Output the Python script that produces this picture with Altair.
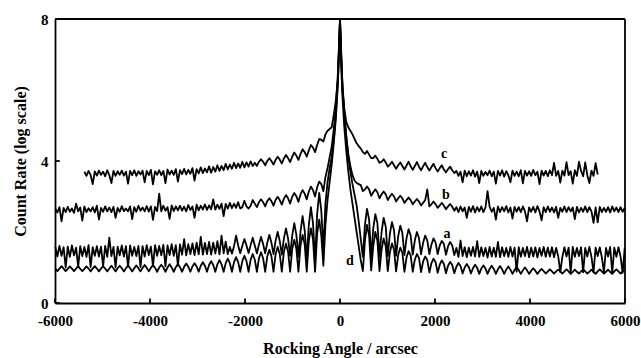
import altair as alt
import pandas as pd

STEP = 43.75
X_TICKS = [-6000, -4000, -2000, 0, 2000, 4000, 6000]
Y_TICKS = [0, 4, 8]
X_RANGE = [-6000, 6000]
Y_RANGE = [0, 8]

# ---------------- curve d (simulation) ----------------
d_left = [
    0.97, 0.90, 0.97, 1.04, 0.97, 0.90, 0.96, 1.03, 0.97, 0.90, 0.97, 1.04,
    0.96, 0.90, 0.96, 1.03, 0.97, 0.89, 0.97, 1.04, 0.97, 0.89, 0.97, 1.04,
    0.97, 0.89, 0.97, 1.05, 0.97, 0.89, 0.98, 1.05, 0.98, 0.89, 0.98, 1.06,
    0.98, 0.89, 0.98, 1.06, 0.98, 0.89, 0.99, 1.07, 0.99, 0.89, 0.99, 1.07,
    0.99, 0.88, 1.00, 1.08, 1.00, 0.88, 1.00, 1.09, 1.00, 0.88, 1.01, 1.10,
    1.01, 0.88, 1.02, 1.11, 1.02, 0.88, 1.03, 1.12, 1.03, 0.88, 1.05, 1.15,
    1.05, 0.88, 1.07, 1.18, 1.07, 0.88, 1.09, 1.21, 1.09, 0.88, 1.12, 1.25,
    1.12, 0.88, 1.15, 1.29, 1.15, 0.88, 1.18, 1.33, 1.18, 0.88, 1.22, 1.38,
    1.22, 0.88, 1.26, 1.43, 1.26, 0.88, 1.31, 1.50, 1.32, 0.88, 1.37, 1.58,
    1.38, 0.88, 1.44, 1.67, 1.45, 0.88, 1.52, 1.78, 1.53, 0.88, 1.62, 1.92,
    1.65, 0.88, 1.75, 2.10, 1.80, 0.88, 1.95, 2.35,
]
d_center = [1.9, 1.05, 2.2, 2.9, 3.4, 3.9, 4.5, 5.2, 6.2, 8.0,
            6.0, 5.0, 4.3, 3.7, 3.2, 2.8, 2.4, 2.0, 1.6, 1.2, 0.9]
d_right = [
    1.75, 2.20, 1.90, 0.92, 1.60, 2.00, 1.75, 0.90, 1.50, 1.82, 1.60, 0.90,
    1.42, 1.68, 1.50, 0.89, 1.35, 1.56, 1.42, 0.88, 1.28, 1.46, 1.34, 0.88,
    1.22, 1.38, 1.27, 0.87, 1.17, 1.31, 1.21, 0.86, 1.12, 1.25, 1.15, 0.85,
    1.08, 1.20, 1.10, 0.84, 1.05, 1.16, 1.07, 0.84, 1.02, 1.13, 1.04, 0.83,
    1.00, 1.10, 1.01, 0.83, 0.98, 1.08, 0.99, 0.82, 0.97, 1.06, 0.97, 0.82,
    0.96, 1.05, 0.96, 0.82, 0.95, 1.04, 0.95, 0.82, 0.94, 1.03, 0.94, 0.82,
    0.93, 1.02, 0.93, 0.82, 0.92, 1.00, 0.92, 0.82, 0.91, 0.98, 0.91, 0.82,
    0.90, 0.96, 0.90, 0.83, 0.89, 0.95, 0.89, 0.83, 0.89, 0.94, 0.89, 0.83,
    0.89, 0.95, 0.89, 0.82, 0.88, 0.94, 0.88, 0.83, 0.89, 0.95, 0.89, 0.83,
    0.88, 0.94, 0.88, 0.82, 0.89, 0.95, 0.89, 0.83, 0.88, 0.94, 0.88, 0.82,
    0.89, 0.95, 0.89, 0.83, 0.89, 0.94,
]

# ---------------- curve a ----------------
a_left = [
    1.58, 1.31, 1.61, 1.33, 1.57, 1.00, 1.59, 1.30, 1.62, 1.34, 1.56, 1.02,
    1.60, 1.32, 1.58, 1.30, 1.63, 1.01, 1.57, 1.33, 1.60, 1.31, 1.59, 1.03,
    1.61, 1.30, 1.84, 1.32, 1.58, 1.00, 1.59, 1.34, 1.62, 1.31, 1.60, 1.02,
    1.62, 1.33, 1.58, 1.32, 1.61, 1.01, 1.60, 1.31, 1.63, 1.35, 1.59, 1.04,
    1.63, 1.33, 1.61, 1.34, 1.64, 1.03, 1.62, 1.35, 1.66, 1.33, 1.63, 1.05,
    1.65, 1.36, 1.80, 1.34, 1.66, 1.38, 1.68, 1.35, 1.70, 1.37, 1.86, 1.36,
    1.69, 1.38, 1.72, 1.36, 1.70, 1.39, 1.74, 1.37, 1.90, 1.40, 1.73, 1.38,
    1.58, 1.39, 1.60, 1.90, 1.62, 1.40, 1.61, 1.80, 1.62, 1.41, 1.63, 1.84,
    1.62, 1.40, 1.65, 1.86, 1.66, 1.40, 1.70, 1.92, 1.70, 1.38, 1.75, 2.00,
    1.75, 1.36, 1.82, 2.10, 1.82, 1.33, 1.90, 2.25, 1.92, 1.30, 2.02, 2.45,
    2.05, 1.25, 2.20, 2.70, 2.25, 1.20, 2.50, 3.10,
]
a_center = [2.6, 1.5, 2.8, 3.4, 3.8, 4.1, 4.6, 5.3, 6.3, 7.9,
            6.3, 5.4, 4.7, 4.1, 3.7, 3.35, 3.05, 2.75, 2.3, 1.8, 1.3]
a_right = [
    2.20, 2.65, 2.35, 1.30, 2.10, 2.50, 2.25, 1.30, 2.00, 2.40, 2.15, 1.32,
    1.95, 2.28, 2.05, 1.33, 1.88, 2.18, 1.97, 1.35, 1.82, 2.08, 1.90, 1.36,
    1.76, 2.00, 1.83, 1.37, 1.70, 1.90, 1.76, 1.38, 1.65, 1.82, 1.70, 1.38,
    1.62, 1.75, 1.66, 1.36, 1.60, 1.72, 1.62, 1.35,
    1.55, 1.30, 1.76, 1.32, 1.57, 1.29, 1.56, 1.33, 1.58, 1.31, 1.74, 1.30,
    1.57, 1.32, 1.55, 1.28, 1.58, 1.31, 1.56, 1.30, 1.72, 1.29, 1.57, 1.32,
    1.55, 1.30, 1.58, 1.31, 1.56, 0.88, 1.57, 1.30, 1.55, 1.32, 1.58, 1.29,
    1.56, 1.31, 1.57, 1.28, 1.55, 1.33, 1.58, 1.30, 1.56, 1.31, 1.57, 1.29,
    1.55, 1.32, 0.87, 1.30, 1.57, 1.31, 1.56, 0.86, 1.58, 1.30, 1.55, 1.32,
    1.57, 0.86, 1.55, 1.31, 1.58, 1.30, 0.86, 1.56, 1.32, 1.57, 1.29, 0.86,
    1.55, 1.31, 1.58, 0.85, 1.56, 1.30, 1.57, 1.31, 0.85, 1.55,
]

# ---------------- curve b ----------------
b_left = [
    2.66, 2.55, 2.70, 2.30, 2.68, 2.56, 2.71, 2.57, 2.66, 2.54, 2.80, 2.58,
    2.69, 2.32, 2.72, 2.56, 2.67, 2.58, 2.70, 2.55, 2.74, 2.35, 2.68, 2.57,
    2.72, 2.58, 2.69, 2.56, 2.71, 2.40, 2.68, 2.57, 2.73, 2.59, 2.66, 2.58,
    2.72, 2.36, 2.70, 2.57, 2.74, 2.60, 2.69, 2.58, 2.73, 2.57, 2.72, 2.34,
    2.71, 2.59, 3.08, 2.58, 2.74, 2.60, 2.70, 2.37, 2.75, 2.59, 2.72, 2.61,
    2.74, 2.60, 2.71, 2.58, 2.76, 2.62, 2.72, 2.40, 2.77, 2.61, 2.74, 2.63,
    2.78, 2.62, 2.75, 2.64, 2.92, 2.63, 2.77, 2.65, 2.80, 2.45, 2.79, 2.66,
    2.82, 2.67, 2.80, 2.68, 2.84, 2.66, 2.70, 2.88, 2.72, 2.66, 2.74, 2.90,
    2.80, 2.70, 2.84, 2.92, 2.84, 2.72, 2.87, 2.95, 2.87, 2.74, 2.90, 2.99,
    2.90, 2.77, 2.94, 3.04, 2.95, 2.80, 2.99, 3.10, 3.01, 2.85, 3.06, 3.18,
    3.08, 2.92, 3.14, 3.28, 3.18, 3.00, 3.26, 3.42,
]
b_center = [3.35, 3.15, 3.55, 3.8, 4.1, 4.4, 4.9, 5.5, 6.5, 8.0,
            6.4, 5.4, 4.7, 4.2, 3.85, 3.6, 3.45, 3.38, 3.35, 3.32, 3.15]
b_right = [
    3.20, 3.28, 3.20, 3.02, 3.12, 3.20, 3.12, 2.95, 3.06, 3.14, 3.06, 2.90,
    3.00, 3.08, 3.00, 2.86, 2.95, 3.02, 2.95, 2.82, 2.90, 2.97, 2.90, 2.78,
    2.86, 2.93, 2.86, 2.75, 2.82, 2.90, 3.20, 2.72, 2.78, 2.86, 2.78, 2.68,
    2.75, 2.82, 2.74, 2.64, 2.72, 2.79, 2.71, 2.60,
    2.70, 2.56, 2.72, 2.58, 2.69, 2.40, 2.71, 2.57, 2.73, 2.55, 2.70, 2.58,
    2.72, 2.56, 2.69, 3.15, 2.71, 2.57, 2.68, 2.35, 2.72, 2.56, 2.70, 2.58,
    2.73, 2.55, 2.69, 2.38, 2.71, 2.57, 2.70, 2.56, 2.72, 2.58, 2.30, 2.69,
    2.57, 2.71, 2.55, 2.73, 2.58, 2.33, 2.70, 2.56, 2.72, 2.57, 2.69, 2.55,
    2.71, 2.40, 2.68, 2.57, 2.72, 2.56, 2.70, 2.58, 2.69, 2.36, 2.71, 2.55,
    2.68, 2.57, 2.72, 2.56, 2.70, 2.58, 2.26, 2.69, 2.27, 2.71, 2.56, 2.68,
    2.57, 2.70, 2.55, 2.72, 2.58, 2.69, 2.56, 2.70, 2.57, 2.68,
]

# ---------------- curve c ----------------
c_left = [
    3.70, 3.58, 3.72, 3.60, 3.35, 3.71, 3.59, 3.73, 3.61, 3.70, 3.57, 3.74,
    3.60, 3.38, 3.72, 3.58, 3.71, 3.61, 3.73, 3.59, 3.70, 3.36, 3.72, 3.60,
    3.74, 3.58, 3.71, 3.62, 3.73, 3.40, 3.72, 3.60, 3.75, 3.34, 3.71, 3.61,
    3.74, 3.60, 3.72, 3.38, 3.76, 3.62, 3.73, 3.61, 3.77, 3.42, 3.74, 3.63,
    3.78, 3.62, 3.75, 3.64, 3.80, 3.45, 3.77, 3.65, 3.82, 3.66, 3.79, 3.68,
    3.85, 3.67, 3.83, 3.70, 3.88, 3.72, 3.86, 3.74, 3.92, 3.76, 3.90, 3.78,
    3.95, 3.80, 3.93, 3.81, 3.98, 3.82, 3.96, 3.84, 3.99, 3.86,
    3.95, 3.86, 3.98, 4.05, 3.98, 3.88, 4.00, 4.08, 4.00, 3.90, 4.03, 4.12,
    4.04, 3.93, 4.07, 4.17, 4.08, 3.97, 4.12, 4.24, 4.15, 4.03, 4.20, 4.33,
    4.25, 4.12, 4.30, 4.45, 4.38, 4.25, 4.45, 4.62,
]
c_center = [4.6, 4.55, 4.75, 4.85, 4.9, 4.95, 5.3, 5.7, 6.3, 8.0,
            6.1, 5.5, 5.1, 4.95, 4.85, 4.75, 4.62, 4.5, 4.42, 4.35, 4.25]
c_right = [
    4.20, 4.28, 4.18, 4.08, 4.08, 4.15, 4.06, 3.95, 3.98, 4.05, 3.96, 3.84,
    3.90, 3.98, 3.88, 3.78, 3.88, 3.96, 3.86, 3.76, 3.87, 3.98, 3.85, 3.75,
    3.86, 3.97, 3.84, 3.74, 3.85, 3.95, 3.83, 3.73, 3.83, 3.92, 3.80, 3.70,
    3.80, 3.88, 3.76, 3.68, 3.77, 3.84, 3.74, 3.66,
    3.72, 3.58, 3.70, 3.40, 3.73, 3.57, 3.71, 3.59, 3.74, 3.56, 3.70, 3.38,
    3.72, 3.58, 3.69, 3.60, 3.73, 3.57, 3.70, 3.36, 3.72, 3.59, 3.74, 3.56,
    3.71, 3.60, 3.40, 3.73, 3.58, 3.70, 3.57, 3.74, 3.37, 3.72, 3.59, 3.71,
    3.58, 3.75, 3.60, 3.70, 3.35, 3.73, 3.59, 3.72, 3.57, 3.74, 3.60, 3.95,
    3.58, 3.72, 3.39, 3.73, 3.59, 3.97, 3.60, 3.71, 3.36, 3.74, 3.58, 3.98,
    3.72, 3.57, 3.96, 3.60, 3.38, 3.73, 3.58, 3.94, 3.62,
]

# curve labels
label_text = ["c", "b", "a", "d"]
label_x = [2190, 2230, 2250, 210]
label_y = [4.21, 3.05, 1.95, 1.17]


def build(name, left, center, right):
    rows = []
    k_left0 = -10 - len(left) + 1
    for i, v in enumerate(left):
        rows.append({"series": name, "x": (k_left0 + i) * STEP, "y": v})
    for i, v in enumerate(center):
        rows.append({"series": name, "x": (-9 + i) * STEP, "y": v})
    k_right0 = -9 + len(center)
    for i, v in enumerate(right):
        rows.append({"series": name, "x": (k_right0 + i) * STEP, "y": v})
    return rows


rows = (build("d", d_left, d_center, d_right)
        + build("a", a_left, a_center, a_right)
        + build("b", b_left, b_center, b_right)
        + build("c", c_left, c_center, c_right))

# frame (top and right edges) and inward ticks, as two-point paths in the same layer
rows += [{"series": "top", "x": X_RANGE[0], "y": Y_RANGE[1]},
         {"series": "top", "x": X_RANGE[1], "y": Y_RANGE[1]},
         {"series": "right", "x": X_RANGE[1], "y": Y_RANGE[0]},
         {"series": "right", "x": X_RANGE[1], "y": Y_RANGE[1]}]
for v in X_TICKS:
    rows += [{"series": f"xt{v}", "x": v, "y": Y_RANGE[0]},
             {"series": f"xt{v}", "x": v, "y": Y_RANGE[0] + 0.13}]
for v in Y_TICKS:
    rows += [{"series": f"yt{v}", "x": X_RANGE[0], "y": v},
             {"series": f"yt{v}", "x": X_RANGE[0] + 100, "y": v}]

df = pd.DataFrame(rows)
labels = pd.DataFrame({"t": label_text, "x": label_x, "y": label_y})

FONT = "Liberation Serif"

xscale = alt.Scale(domain=X_RANGE, nice=False, zero=False)
yscale = alt.Scale(domain=Y_RANGE, nice=False)

xaxis = alt.Axis(values=X_TICKS, title="Rocking Angle / arcsec", ticks=False, grid=False,
                 labelExpr="datum.value + ''", labelFont=FONT, labelFontWeight="bold",
                 labelFontSize=15, labelColor="black", labelPadding=10, labelFlush=False,
                 titleFont=FONT, titleFontWeight="bold", titleFontSize=16,
                 titleColor="black", titlePadding=12, domainColor="black", domainWidth=1.8)
yaxis = alt.Axis(values=Y_TICKS, title="Count Rate (log scale)", ticks=False, grid=False,
                 labelFont=FONT, labelFontWeight="bold", labelFontSize=15,
                 labelColor="black", labelPadding=7, labelFlush=False,
                 titleFont=FONT, titleFontWeight="bold", titleFontSize=16,
                 titleColor="black", titlePadding=12, domainColor="black", domainWidth=1.8)

X = alt.X("x:Q", scale=xscale, axis=xaxis)
Y = alt.Y("y:Q", scale=yscale, axis=yaxis)

lines = alt.Chart(df).mark_line(color="black", strokeWidth=1.8, strokeJoin="round").encode(
    x=X, y=Y, detail="series:N", order="x:Q")

texts = alt.Chart(labels).mark_text(font=FONT, fontWeight="bold", fontSize=14,
                                    color="black", align="center", baseline="middle").encode(
    x=X, y=Y, text="t:N")

chart = alt.layer(lines, texts).properties(
    width=570, height=284,
    autosize=alt.AutoSizeParams(type="none"),
    padding={"left": 55, "top": 19, "right": 16, "bottom": 55},
    background="white",
).configure_view(stroke=None)

chart.save("out.html", embed_options={"renderer": "svg", "actions": False})
